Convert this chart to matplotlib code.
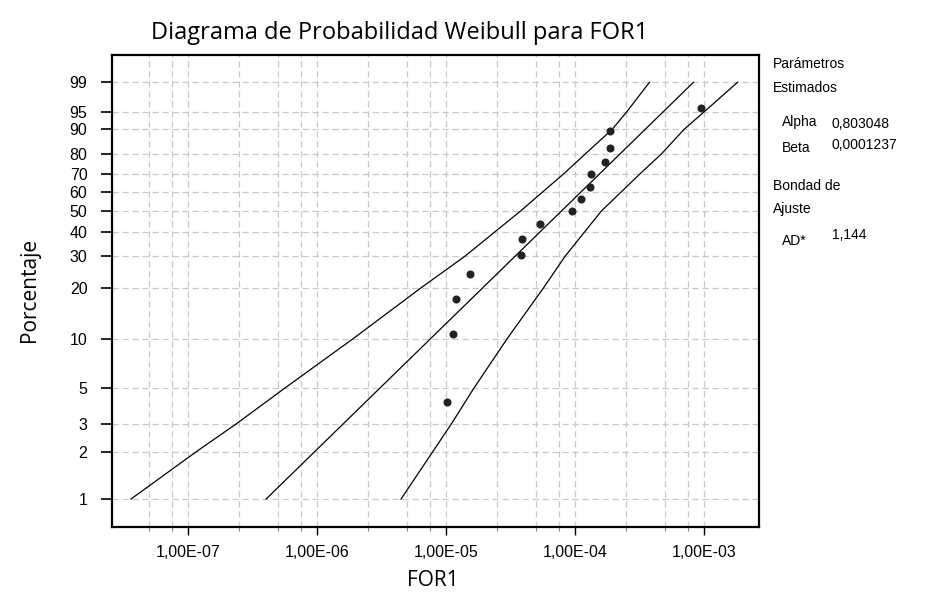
import numpy as np
import matplotlib
matplotlib.use("Agg")
import matplotlib.pyplot as plt
from matplotlib.ticker import FixedLocator, FuncFormatter, NullFormatter

# ---------------- data ----------------
alpha_shape = "0,803048"
beta_scale = "0,0001237"
ad_stat = "1,144"

# observed points: FOR1 value, cumulative percent
point_x = [9.48e-4, 1.88e-4, 1.88e-4, 1.70e-4, 1.32e-4, 1.30e-4, 1.115e-4,
           9.49e-5, 5.36e-5, 3.90e-5, 3.84e-5, 1.535e-5, 1.20e-5, 1.14e-5, 1.01e-5]
point_pct = [95.7, 89.4, 82.7, 75.9, 69.6, 63.0, 56.4,
             49.9, 43.4, 36.9, 30.3, 23.9, 17.3, 10.7, 4.1]

# fitted Weibull line (endpoints at 1% and 99%)
fit_pct = [1, 99]
fit_x = [4.03e-7, 8.29e-4]

# confidence bands
band_pct = [1, 2, 3, 5, 10, 20, 30, 50, 70, 80, 90, 95, 99]
band_left_x = [3.61e-8, 1.164e-7, 2.38e-7, 5.62e-7, 1.88e-6, 6.35e-6, 1.40e-5,
               3.78e-5, 8.22e-5, 1.205e-4, 1.94e-4, 2.53e-4, 3.78e-4]
band_right_x = [4.48e-6, 7.91e-6, 1.104e-5, 1.645e-5, 2.96e-5, 5.68e-5, 8.38e-5,
                1.60e-4, 3.21e-4, 4.69e-4, 7.0e-4, 1.01e-3, 1.82e-3]

y_ticks = [1, 2, 3, 5, 10, 20, 30, 40, 50, 60, 70, 80, 90, 95, 99]
y_ticks_grey = [5, 40, 60, 95]
x_major = [1e-7, 1e-6, 1e-5, 1e-4, 1e-3]
x_minor = [5e-8, 7.5e-8, 2.5e-7, 5e-7, 7.5e-7, 2.5e-6, 5e-6, 7.5e-6,
           2.5e-5, 5e-5, 7.5e-5, 2.5e-4, 5e-4, 7.5e-4]

# ---------------- figure ----------------
W, H = 937, 604
fig = plt.figure(figsize=(W / 100, H / 100), dpi=100)
L, R, T, B = 111.7, 759.3, 54.7, 526.7
ax = fig.add_axes([L / W, 1 - B / H, (R - L) / W, (B - T) / H])


def wfwd(p):
    p = np.clip(np.asarray(p, dtype=float), 1e-7, 100 - 1e-9) / 100.0
    return np.log(-np.log1p(-p))


def winv(w):
    w = np.asarray(w, dtype=float)
    return 100.0 * (1.0 - np.exp(-np.exp(w)))


ax.set_xscale("log")
ax.set_yscale("function", functions=(wfwd, winv))
ax.set_xlim(2.56e-8, 2.685e-3)
ax.set_ylim(0.667, 99.9)

ax.yaxis.set_major_locator(FixedLocator(y_ticks))
ax.yaxis.set_major_formatter(FuncFormatter(lambda v, p: f"{v:g}"))
ax.yaxis.set_minor_locator(FixedLocator([]))

ax.xaxis.set_major_locator(FixedLocator(x_major))
ax.xaxis.set_minor_locator(FixedLocator(x_minor))


def sci_comma(v, pos):
    e = int(np.floor(np.log10(v) + 1e-9))
    m = v / 10 ** e
    return f"{m:.2f}".replace(".", ",") + f"E{e:+03d}"


ax.xaxis.set_major_formatter(FuncFormatter(sci_comma))
ax.xaxis.set_minor_formatter(NullFormatter())

grid_kw = dict(color="#c8c8c8", linestyle=(0, (5, 3)), linewidth=0.9)
ax.grid(True, which="major", axis="both", **grid_kw)
ax.grid(True, which="minor", axis="x", **grid_kw)
ax.set_axisbelow(True)

ax.tick_params(axis="y", which="major", direction="out", length=8, width=1.2,
               pad=9.5, labelsize=11.5, colors="black")
ax.tick_params(axis="x", which="major", direction="out", length=5.5, width=1.0,
               pad=7.5, labelsize=11.5)
ax.tick_params(axis="x", which="minor", direction="out", length=3.2, width=0.8,
               color="#808080")
for lab in ax.get_xticklabels() + ax.get_yticklabels():
    lab.set_fontfamily("Liberation Sans")

for t, v in zip(ax.yaxis.get_major_ticks(), y_ticks):
    if v in y_ticks_grey:
        t.tick1line.set_color("#808080")

for s in ax.spines.values():
    s.set_linewidth(1.6)
    s.set_color("black")

# lines and points
ax.plot(fit_x, fit_pct, color="black", linewidth=0.9)
ax.plot(band_left_x, band_pct, color="black", linewidth=0.9)
ax.plot(band_right_x, band_pct, color="black", linewidth=0.9)
ax.plot(point_x, point_pct, linestyle="none", marker="o", markersize=4.8,
        color="#222222", zorder=5)

# titles / labels
lab_font = "Open Sans"
fig.text(400 / W, 1 - 33 / H, "Diagrama de Probabilidad Weibull para FOR1",
         ha="center", va="center", fontsize=17, family=lab_font)
fig.text(30 / W, 1 - 290 / H, "Porcentaje", rotation=90, ha="center",
         va="center", fontsize=15, family=lab_font)
fig.text(433 / W, 1 - 580 / H, "FOR1", ha="center", va="center",
         fontsize=15, family=lab_font)

# right-hand parameter panel
pf = dict(fontsize=10, family="Liberation Sans", va="center", ha="left")
fig.text(773 / W, 1 - 64 / H, "Parámetros", **pf)
fig.text(773 / W, 1 - 88 / H, "Estimados", **pf)
fig.text(782 / W, 1 - 122 / H, "Alpha", **pf)
fig.text(832 / W, 1 - 124 / H, alpha_shape, **pf)
fig.text(782 / W, 1 - 148 / H, "Beta", **pf)
fig.text(832 / W, 1 - 145 / H, beta_scale, **pf)
fig.text(773 / W, 1 - 186 / H, "Bondad de", **pf)
fig.text(773 / W, 1 - 209 / H, "Ajuste", **pf)
fig.text(782 / W, 1 - 241 / H, "AD*", **pf)
fig.text(832 / W, 1 - 235 / H, ad_stat, **pf)

fig.savefig("out.png", dpi=100)
